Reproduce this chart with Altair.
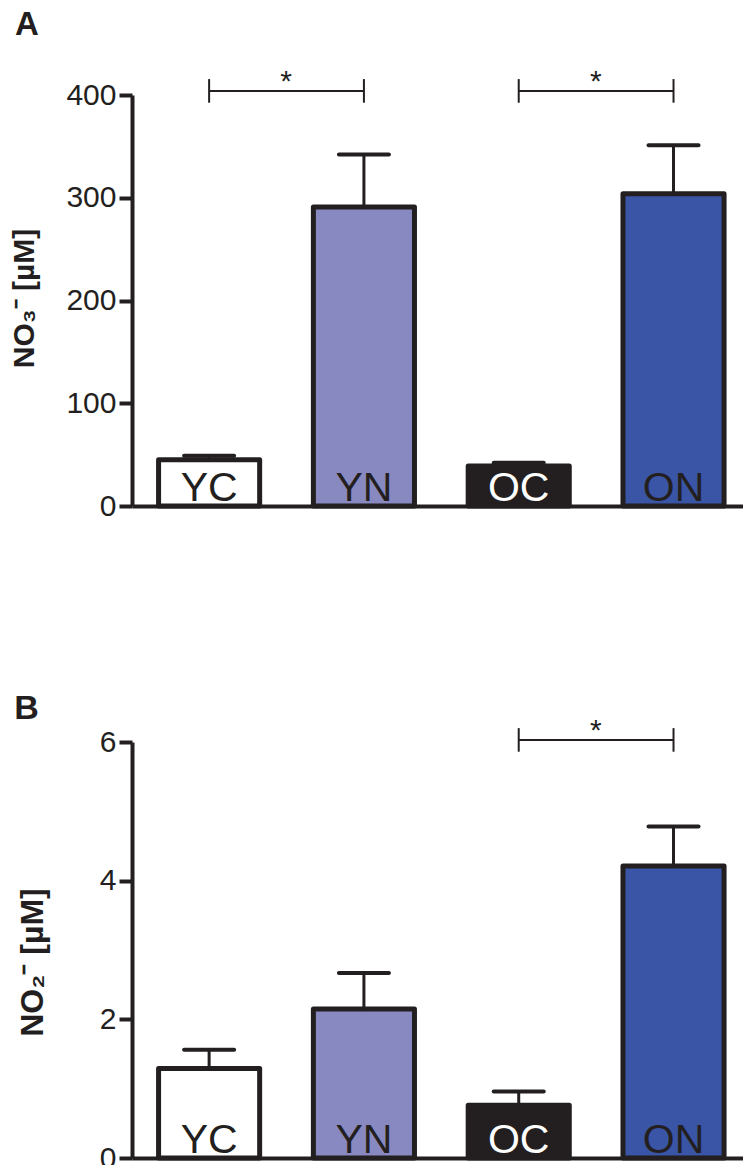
import altair as alt
import pandas as pd

# ---- data ----
groups = ["YC", "YN", "OC", "ON"]
fills = ["#FFFFFF", "#8889C1", "#231F20", "#3A55A5"]
label_colors = ["#231F20", "#231F20", "#FFFFFF", "#231F20"]

no3_mean = [45, 291, 39, 304]
no3_upper = [49, 342, 42, 351]
no2_mean = [1.29, 2.15, 0.76, 4.21]
no2_upper = [1.56, 2.67, 0.96, 4.78]

no3_br_left = ["YC", "OC"]
no3_br_right = ["YN", "ON"]
no3_br_y = [404, 404]
no3_br_lo = [392.5, 392.5]
no3_br_hi = [415.5, 415.5]

no2_br_left = ["OC"]
no2_br_right = ["ON"]
no2_br_y = [6.03]
no2_br_lo = [5.86]
no2_br_hi = [6.20]

INK = "#231F20"
FONT = "Liberation Sans"

xscale = alt.Scale(domain=groups, paddingInner=0.347, paddingOuter=0.147, align=0.584)
cscale = alt.Scale(domain=groups, range=fills)
tscale = alt.Scale(domain=groups, range=label_colors)


def panel(letter, means, uppers, ymax, yticks, ytitle, bl, br, by, blo, bhi, height,
          title_offset, title_dx, letter_size, ytitle_size, ytitle_pad, ytitle_y):
    df = pd.DataFrame({"g": groups, "m": means, "u": uppers, "zero": [0] * len(groups)})
    bdf = pd.DataFrame({"l": bl, "r": br, "y": by, "lo": blo, "hi": bhi})
    x = alt.X("g:N", scale=xscale, sort=groups,
              axis=alt.Axis(title=None, labels=False, ticks=False, domainWidth=4,
                            domainColor=INK))
    y_axis = alt.Axis(title=ytitle, values=yticks, format="d", grid=False, tickSize=13,
                      tickWidth=4, tickColor=INK, domainWidth=4, domainColor=INK,
                      labelFontSize=30, labelColor=INK, labelFont=FONT, labelPadding=3,
                      titleFont=FONT, titleFontSize=ytitle_size, titleFontWeight="bold",
                      titleColor=INK, titlePadding=ytitle_pad, titleY=ytitle_y)
    yscale = alt.Scale(domain=[0, ymax], nice=False, zero=True)
    base = alt.Chart(df)
    bars = base.mark_bar(stroke=INK, strokeWidth=5, strokeJoin="round").encode(
        x=x,
        y=alt.Y("m:Q", scale=yscale, axis=y_axis),
        color=alt.Color("g:N", scale=cscale, legend=None),
    )
    stem = base.mark_rule(color=INK, strokeWidth=3).encode(
        x=alt.X("g:N", scale=xscale, sort=groups), y="m:Q", y2="u:Q")
    cap = base.mark_tick(color=INK, thickness=4, size=54, cornerRadius=2, opacity=1).encode(
        x=alt.X("g:N", scale=xscale, sort=groups), y="u:Q")
    labels = base.mark_text(fontSize=41, font=FONT, baseline="alphabetic", dy=-5).encode(
        x=alt.X("g:N", scale=xscale, sort=groups), y="zero:Q", text="g:N",
        color=alt.Color("g:N", scale=tscale, legend=None))
    bb = alt.Chart(bdf)
    hline = bb.mark_rule(color=INK, strokeWidth=2).encode(
        x=alt.X("l:N", scale=xscale, sort=groups), x2="r:N", y="y:Q")
    lt = bb.mark_rule(color=INK, strokeWidth=2).encode(
        x=alt.X("l:N", scale=xscale, sort=groups), y="lo:Q", y2="hi:Q")
    rt = bb.mark_rule(color=INK, strokeWidth=2).encode(
        x=alt.X("r:N", scale=xscale, sort=groups), y="lo:Q", y2="hi:Q")
    star = bb.mark_text(text="*", fontSize=30, font=FONT, color=INK, baseline="alphabetic",
                        dx=77).encode(x=alt.X("l:N", scale=xscale, sort=groups), y="y:Q")
    return alt.layer(bars, stem, cap, labels, hline, lt, rt, star).resolve_scale(
        color="independent").properties(
        width=611, height=height,
        title=alt.Title(letter, anchor="start", frame="bounds", fontSize=letter_size,
                        fontWeight="bold", font=FONT, color=INK, offset=title_offset,
                        dx=title_dx))


pa = panel("A", no3_mean, no3_upper, 400, [0, 100, 200, 300, 400], "NO₃⁻ [µM]",
           no3_br_left, no3_br_right, no3_br_y, no3_br_lo, no3_br_hi, 411,
           25, 5, 33, 30, 26, 203)
pb = panel("B", no2_mean, no2_upper, 6, [0, 2, 4, 6], "NO₂⁻ [µM]",
           no2_br_left, no2_br_right, no2_br_y, no2_br_lo, no2_br_hi, 416,
           -10, -2, 34, 32, 50, 220)

chart = alt.vconcat(pa, pb, spacing=170).properties(
    padding={"left": 9, "top": 8, "right": 0, "bottom": 0}
).configure(font=FONT).configure_view(stroke=None)

chart.save("out.html", embed_options={"renderer": "svg", "actions": False})
